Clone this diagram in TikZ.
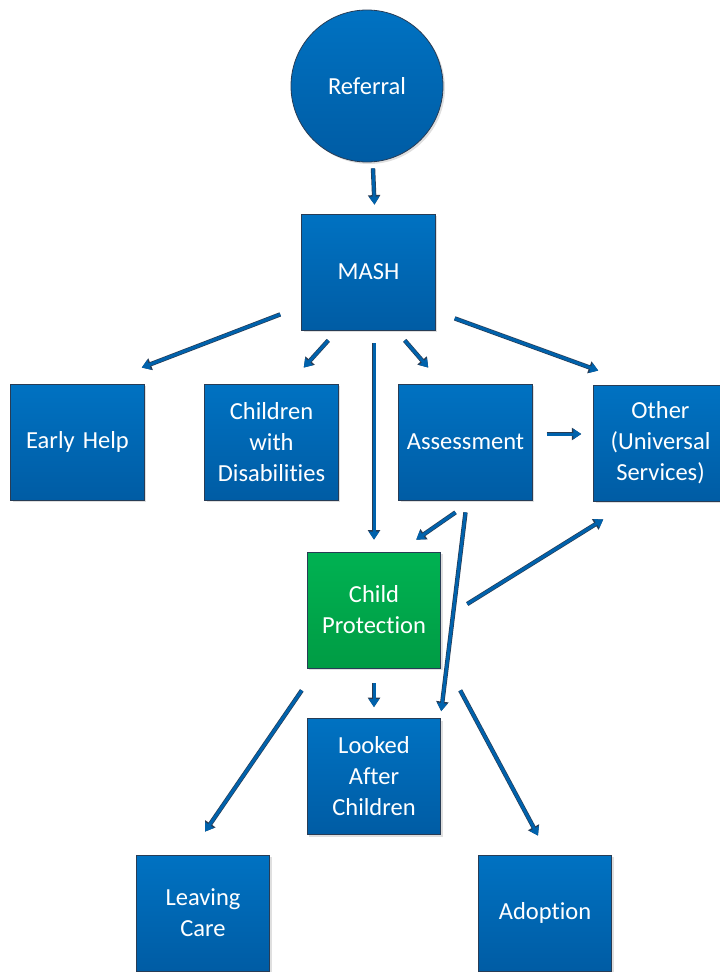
\documentclass[tikz,border=0pt]{standalone}
\usepackage{fontspec}
\setmainfont{Carlito}[Ligatures={NoCommon}]
\usetikzlibrary{arrows.meta,calc,shadows}
\definecolor{boxtop}{RGB}{0,114,194}
\definecolor{boxbot}{RGB}{0,92,164}
\definecolor{cptop}{RGB}{0,178,82}
\definecolor{cpbot}{RGB}{0,156,68}
\definecolor{edge}{RGB}{40,60,85}
\definecolor{linkblue}{RGB}{0,98,172}
\tikzset{
    unit/.style={rectangle, draw=edge, line width=0.8pt, top color=boxtop, bottom color=boxbot,
        minimum width=131pt, minimum height=116pt, text width=127pt, align=center,
        text=white, font=\fontsize{24.5}{31}\selectfont,
        drop shadow={opacity=0.25, shadow xshift=2pt, shadow yshift=-2pt}},
    cpunit/.style={unit, top color=cptop, bottom color=cpbot},
    link/.style={draw=linkblue, line width=3pt, -{Triangle[length=8pt,width=10pt]},
        preaction={draw=edge, line width=4.4pt, -{Triangle[length=9.5pt,width=12pt]}}}
}
\begin{document}
\begin{tikzpicture}[x=1pt, y=-1pt]
    \useasboundingbox (0,0) rectangle (720,972);
    \node[unit, circle, minimum size=152pt, text width=] (ref) at (367,86) {Referral};
    \node[unit] (mash) at (368.5,272) {MASH};
    \node[unit] (early) at (77.5,442) {Early Help};
    \node[unit] (cwd) at (271.5,442) {Children\\with\\Disabilities};
    \node[unit] (assess) at (465.5,442) {Assessment};
    \node[unit] (other) at (660.5,443) {Other\\(Universal\\Services)};
    \node[cpunit] (cp) at (374,610) {Child\\Protection};
    \node[unit] (lac) at (374,776.5) {Looked\\After\\Children};
    \node[unit] (leave) at (203,913) {Leaving\\Care};
    \node[unit] (adopt) at (545,913) {Adoption};
    % стрелки
    \draw[link] ($(ref.south)+(6,6)$) -- ($(mash.north)+(6,-9)$);
    \draw[link] ($(mash.south west)+(-21,-16)$) -- ($(early.north east)+(-3,-16)$);
    \draw[link] ($(mash.south west)+(27,10)$) -- ($(cwd.north east)+(-35,-16)$);
    \draw[link] ($(cp.north |- mash.south)+(0,13)$) -- ($(cp.north)+(0,-12)$);
    \draw[link] ($(mash.south east)+(-31,10)$) -- ($(assess.north west)+(30,-16)$);
    \draw[link] ($(mash.south east)+(19,-12)$) -- ($(other.north west)+(5,-14)$);
    \draw[link] ($(assess.east)+(14,-8)$) -- ($(other.west)+(-12,-9)$);
    \draw[link] ($(assess.south)+(-10,12)$) -- ($(cp.north east)+(-25,-12)$);
    \draw[link] ($(assess.south)+(0,12)$) -- ($(lac.north east)+(0,-7)$);
    \draw[link] ($(cp.east)+(26,-6)$) -- ($(other.south west)+(10,18)$);
    \draw[link] ($(cp.south)+(0,15)$) -- ($(lac.north)+(0,-11)$);
    \draw[link] ($(cp.south west)+(-5,22)$) -- ($(leave.north)+(2,-23)$);
    \draw[link] ($(cp.south east)+(19,22)$) -- ($(adopt.north)+(-7,-19)$);
\end{tikzpicture}
\end{document}
